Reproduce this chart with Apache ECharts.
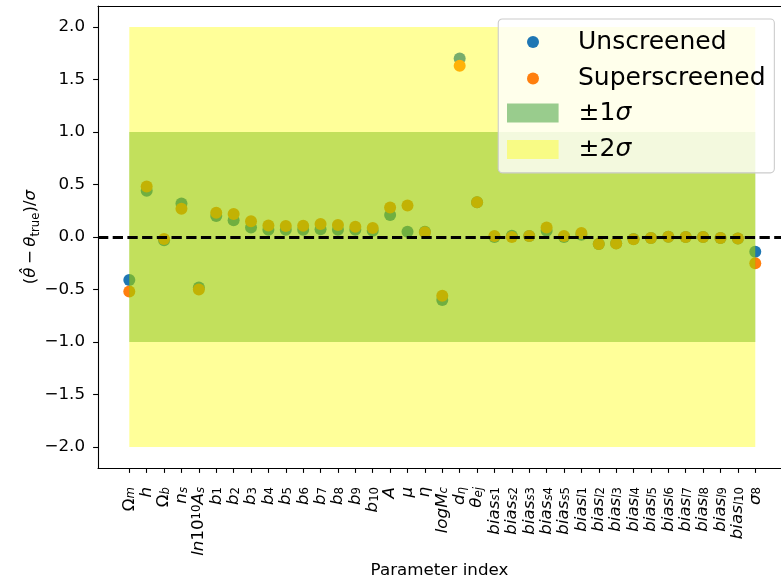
<!DOCTYPE html>
<html><head><meta charset="utf-8">
<script src="https://cdn.jsdelivr.net/npm/echarts@6/dist/echarts.min.js"></script>
<style>html,body{margin:0;padding:0;background:#fff}#c{width:781px;height:579px}</style>
</head><body><div id="c"></div>
<script>
// ---- data ----
const paramLabels = [
  '{r|Ω}{si|m}', '{i|h}', '{r|Ω}{si|b}', '{i|n}{si|s}', '{i|ln}{r|10}{sup|10}{i|A}{si|s}',
  '{i|b}{s|1}', '{i|b}{s|2}', '{i|b}{s|3}', '{i|b}{s|4}', '{i|b}{s|5}',
  '{i|b}{s|6}', '{i|b}{s|7}', '{i|b}{s|8}', '{i|b}{s|9}', '{i|b}{s|10}',
  '{i|A}', '{i|μ}', '{i|η}', '{i|logM}{si|c}', '{i|d}{si|η}', '{i|θ}{si|ej}',
  '{i|bias}{si|s}{s|1}', '{i|bias}{si|s}{s|2}', '{i|bias}{si|s}{s|3}', '{i|bias}{si|s}{s|4}', '{i|bias}{si|s}{s|5}',
  '{i|bias}{si|l}{s|1}', '{i|bias}{si|l}{s|2}', '{i|bias}{si|l}{s|3}', '{i|bias}{si|l}{s|4}', '{i|bias}{si|l}{s|5}',
  '{i|bias}{si|l}{s|6}', '{i|bias}{si|l}{s|7}', '{i|bias}{si|l}{s|8}', '{i|bias}{si|l}{s|9}', '{i|bias}{si|l}{s|10}',
  '{i|σ}{s|8}'
];
const unscreened = [-0.41, 0.44, -0.03, 0.32, -0.48, 0.20, 0.16, 0.09, 0.07, 0.07, 0.07, 0.073, 0.07, 0.07, 0.06,
  0.21, 0.05, 0.05, -0.60, 1.70, 0.33, 0.00, 0.013, 0.01, 0.06, 0.00, 0.022, -0.067, -0.06, -0.02, -0.01,
  0.003, 0.0, 0.0, -0.01, -0.015, -0.14];
const superscreened = [-0.52, 0.48, -0.02, 0.27, -0.50, 0.23, 0.22, 0.15, 0.11, 0.105, 0.107, 0.124, 0.114, 0.098, 0.086,
  0.28, 0.30, 0.045, -0.56, 1.63, 0.33, 0.01, 0.0, 0.01, 0.09, 0.01, 0.038, -0.067, -0.063, -0.022, -0.01,
  0.003, 0.0, 0.0, -0.01, -0.015, -0.25];
const yTicks = [-2, -1.5, -1, -0.5, 0, 0.5, 1, 1.5, 2];
const sigma1Band = [-1, 1];
const sigma2Band = [-2, 2];
const xLimits = [-1.8, 37.48];
const yLimits = [-2.2, 2.2];
const seriesNames = ['Unscreened', 'Superscreened', '±1σ', '±2σ'];

// ---- styling ----
const F = 'DejaVu Sans';
const FS = 16.7, SS = 11.7;
function makeRich(lh, slh, suplh) {
  return {
    r: {fontFamily: F, fontSize: FS, lineHeight: lh, color: '#000'},
    i: {fontFamily: F, fontSize: FS, lineHeight: lh, fontStyle: 'italic', color: '#000'},
    s: {fontFamily: F, fontSize: SS, lineHeight: slh, verticalAlign: 'bottom', color: '#000'},
    si: {fontFamily: F, fontSize: SS, lineHeight: slh, verticalAlign: 'bottom', fontStyle: 'italic', color: '#000'},
    sup: {fontFamily: F, fontSize: SS, lineHeight: suplh, verticalAlign: 'top', color: '#000'}
  };
}
const xRich = makeRich(16, 3, 6);
const yRich = makeRich(22, 11.7, 11.7);
const idx = paramLabels.map((_, i) => i);
const lastIdx = paramLabels.length - 1;

function bandRender(params, api) {
  const p0 = api.coord([api.value(0), api.value(3)]);
  const p1 = api.coord([api.value(1), api.value(2)]);
  return {type: 'rect', shape: {x: p0[0], y: p0[1], width: p1[0] - p0[0], height: p1[1] - p0[1]},
    style: {fill: api.visual('color')}};
}

const axisLineStyle = {color: '#000', width: 1.1};
const chart = echarts.init(document.getElementById('c'), null, {renderer: 'canvas'});
chart.setOption({
  animation: false,
  backgroundColor: '#fff',
  grid: {left: 98, top: 6, right: 0, height: 462, show: false, containLabel: false, outerBoundsMode: 'none'},
  xAxis: [{
    type: 'value', min: xLimits[0], max: xLimits[1], position: 'bottom',
    axisLine: {show: true, onZero: false, lineStyle: axisLineStyle},
    axisTick: {show: true, customValues: idx, length: 4.9, inside: false, lineStyle: axisLineStyle},
    axisLabel: {customValues: idx, rotate: 90, margin: 19, showMinLabel: true, showMaxLabel: true, hideOverlap: false,
      formatter: v => paramLabels[Math.round(v)], rich: xRich},
    splitLine: {show: false},
    name: 'Parameter index', nameLocation: 'middle', nameGap: 94, nameMoveOverlap: false,
    nameTextStyle: {fontFamily: F, fontSize: FS, color: '#000'}
  }, {
    type: 'value', min: xLimits[0], max: xLimits[1], position: 'top',
    axisLine: {show: true, onZero: false, lineStyle: axisLineStyle},
    axisTick: {show: false}, axisLabel: {show: false}, splitLine: {show: false}
  }],
  yAxis: {
    type: 'value', min: yLimits[0], max: yLimits[1],
    axisLine: {show: true, onZero: false, lineStyle: axisLineStyle},
    axisTick: {show: true, customValues: yTicks, length: 4.9, inside: false, lineStyle: axisLineStyle},
    axisLabel: {customValues: yTicks, margin: 13, showMinLabel: true, showMaxLabel: true,
      fontFamily: F, fontSize: FS, color: '#000',
      formatter: v => (v < 0 ? '\u2212' : '') + Math.abs(v).toFixed(1)},
    splitLine: {show: false},
    name: '({i|θ̂}\u2009\u2212\u2009{i|θ}{s|true})/{i|σ}', nameLocation: 'middle', nameRotate: 90, nameGap: 56,
    nameMoveOverlap: false,
    nameTextStyle: {fontFamily: F, fontSize: FS, color: '#000', lineHeight: 22, rich: yRich}
  },
  legend: [
    {data: [seriesNames[0], seriesNames[1]], orient: 'vertical', left: 527, top: 29.5, padding: 0,
      itemWidth: 12, itemHeight: 12, itemGap: 11.6, icon: 'circle', selectedMode: false, z: 60,
      textStyle: {fontFamily: F, fontSize: 25, color: '#000', padding: [0, 0, 0, 34]}},
    {data: [{name: seriesNames[2], icon: 'rect', itemStyle: {color: 'rgba(0,128,0,0.4)'}},
            {name: seriesNames[3], icon: 'rect', itemStyle: {color: 'rgba(255,255,0,0.4)'}}],
      orient: 'vertical', left: 507, top: 100.5, padding: 0,
      itemWidth: 51.6, itemHeight: 19, itemGap: 11.6, selectedMode: false, z: 60,
      formatter: n => n.replace('σ', '{i|σ}'),
      textStyle: {fontFamily: F, fontSize: 25, color: '#000', padding: [0, 0, 0, 15],
        rich: {i: {fontFamily: F, fontSize: 25, fontStyle: 'italic', color: '#000'}}}}
  ],
  graphic: [{type: 'rect', left: 497.7, top: 18.5, z: 50,
    shape: {width: 276.1, height: 153.8, r: 4},
    style: {fill: 'rgba(255,255,255,0.8)', stroke: '#cccccc', lineWidth: 1.1}}],
  series: [
    {name: seriesNames[0], type: 'scatter', z: 2, symbolSize: 12, itemStyle: {color: '#1f77b4', opacity: 1},
      data: unscreened.map((v, i) => [i, v])},
    {name: seriesNames[1], type: 'scatter', z: 2, symbolSize: 12, itemStyle: {color: '#ff7f0e', opacity: 1},
      data: superscreened.map((v, i) => [i, v]),
      markLine: {silent: true, z: 10, symbol: ['none', 'none'], label: {show: false},
        lineStyle: {color: '#000', width: 2.8, type: [10.3, 4.4]}, data: [{yAxis: 0}]}},
    {name: seriesNames[2], type: 'custom', z: 3, renderItem: bandRender, itemStyle: {color: 'rgba(0,128,0,0.4)'},
      data: [[0, lastIdx, sigma1Band[0], sigma1Band[1]]], silent: true},
    {name: seriesNames[3], type: 'custom', z: 4, renderItem: bandRender, itemStyle: {color: 'rgba(255,255,0,0.4)'},
      data: [[0, lastIdx, sigma2Band[0], sigma2Band[1]]], silent: true}
  ]
});
</script></body></html>
